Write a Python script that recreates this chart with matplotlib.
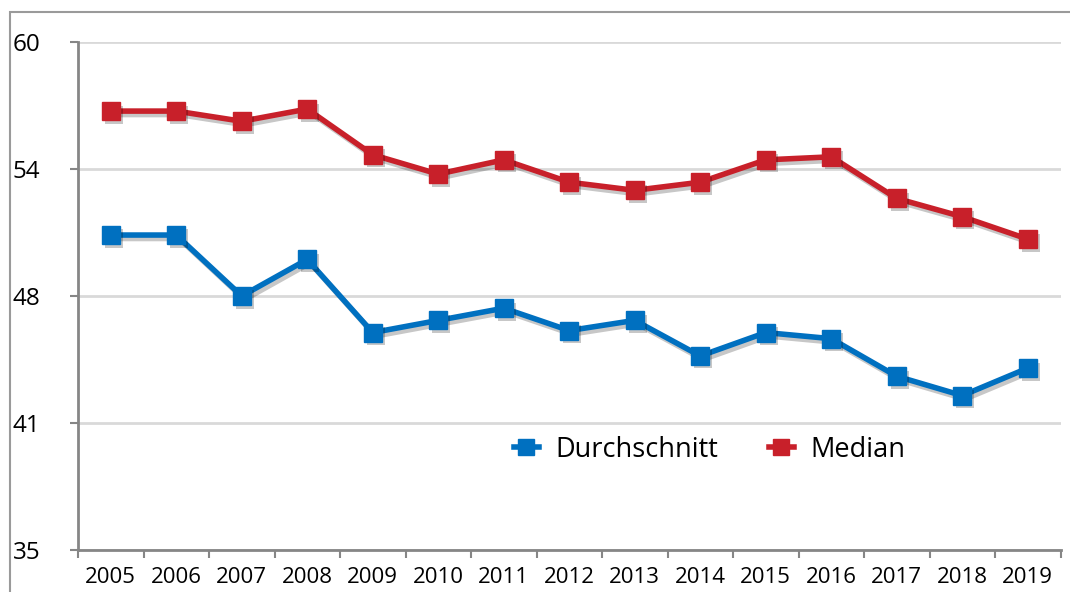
import matplotlib.pyplot as plt
import matplotlib.patheffects as pe
from matplotlib.patches import Rectangle
import numpy as np

years = ['2005', '2006', '2007', '2008', '2009', '2010', '2011', '2012',
         '2013', '2014', '2015', '2016', '2017', '2018', '2019']
durchschnitt = [50.5, 50.5, 47.5, 49.3, 45.7, 46.3, 46.9, 45.8,
                46.3, 44.55, 45.7, 45.4, 43.55, 42.6, 43.95]
median = [56.6, 56.6, 56.1, 56.7, 54.45, 53.5, 54.2, 53.1,
          52.7, 53.1, 54.2, 54.35, 52.3, 51.4, 50.3]
yticks = [35, 41.25, 47.5, 53.75, 60]
ylabels = ['35', '41', '48', '54', '60']

plt.rcParams['font.family'] = ['Open Sans', 'DejaVu Sans']

fig = plt.figure(figsize=(10.7, 5.92), dpi=100)
ax = fig.add_axes([78/1070, 1-550/592, (1060.5-78)/1070, (550-42)/592])

# outer frame
fig.patches.append(Rectangle((10/1070, -0.1), 1.2, (592-12)/592 + 0.1,
                             transform=fig.transFigure, fill=False,
                             edgecolor='#9a9a9a', linewidth=1.5))

x = np.arange(len(years))
line_shadow = [pe.SimpleLineShadow(offset=(2, -2.5), alpha=0.22, shadow_color='black'), pe.Normal()]
mark_shadow = [pe.SimplePatchShadow(offset=(2, -2.5), alpha=0.22, shadow_rgbFace='black'), pe.Normal()]

for vals, col, name in [(durchschnitt, '#0070C0', 'Durchschnitt'), (median, '#C8202A', 'Median')]:
    ax.plot(x, vals, color=col, lw=4, path_effects=line_shadow, zorder=3)
    ax.plot(x, vals, ls='none', marker='s', ms=13, color=col,
            path_effects=mark_shadow, zorder=4)
    # legend proxy
    ax.plot([], [], color=col, lw=4, marker='s', ms=11, label=name)

ax.set_xlim(-0.5, len(years) - 0.5)
ax.set_ylim(35, 60)
ax.set_yticks(yticks)
ax.set_yticklabels(ylabels)
ax.set_xticks(x)
ax.set_xticklabels(years)
ax.set_xticks(np.arange(-0.5, len(years)), minor=True)
ax.tick_params(axis='x', which='major', length=0, pad=12, labelsize=16)
ax.tick_params(axis='x', which='minor', length=6, width=1.5, color='#868686', direction='out')
ax.tick_params(axis='y', length=6, width=1.5, color='#868686', pad=41, labelsize=17.5)
for lab in ax.get_yticklabels():
    lab.set_horizontalalignment('left')

ax.grid(axis='y', color='#d9d9d9', lw=2)
ax.set_axisbelow(True)
for s in ['top', 'right']:
    ax.spines[s].set_visible(False)
for s in ['left', 'bottom']:
    ax.spines[s].set_color('#868686')
    ax.spines[s].set_linewidth(2)

ax.legend(loc='center', bbox_to_anchor=(0.643, 0.197), ncol=2, frameon=False,
          fontsize=19.5, columnspacing=1.85, handlelength=0.92, handletextpad=0.63)

fig.savefig('out.png', dpi=100)
